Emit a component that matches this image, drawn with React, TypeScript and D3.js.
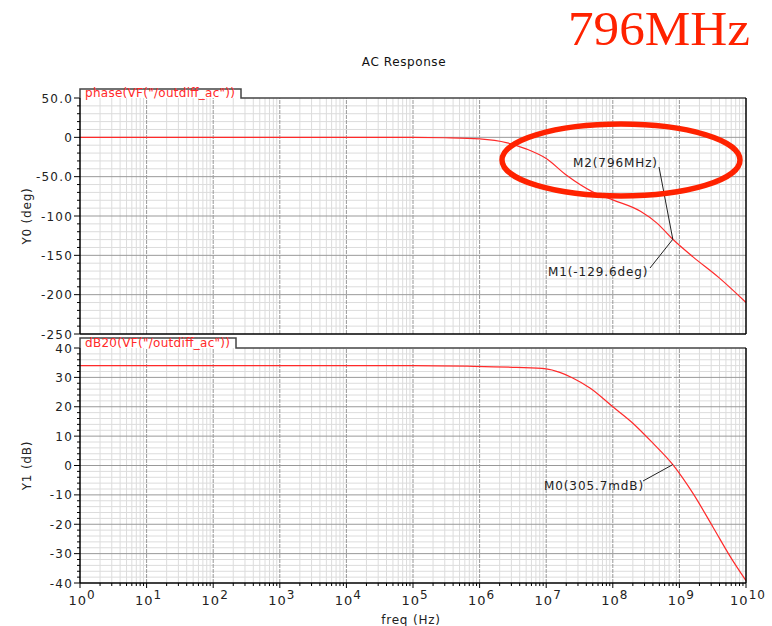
import React from "react";
import * as d3 from "d3";

// phase(VF("/outdiff_ac"))
const phaseFreq = [1, 1e5, 3e5, 1e6, 2.6e6, 5.1e6, 1e7, 2e7, 4.9e7, 1e8, 2.6e8, 4.6e8, 7.96e8, 1.6e9, 4e9, 1e10];
const phaseDeg = [0, 0, -0.5, -2, -7, -15, -27, -48, -69, -79.5, -94, -109, -129.6, -152, -179, -210];

// dB20(VF("/outdiff_ac"))
const gainFreq = [1, 1e5, 6.6e5, 3.6e6, 1e7, 1.6e7, 2.5e7, 4.6e7, 1e8, 2e8, 4e8, 7.96e8, 1.6e9, 3.2e9, 5.8e9, 1e10];
const gainDb = [34, 34, 33.8, 33.4, 32.9, 31.7, 29.8, 26.3, 20, 14.4, 7.6, 0.3, -9.5, -21, -31, -39.2];

const phaseTicks = [50, 0, -50, -100, -150, -200, -250];
const phaseTickLabels = ["50.0", "0", "-50.0", "-100", "-150", "-200", "-250"];
const gainTicks = [40, 30, 20, 10, 0, -10, -20, -30, -40];
const decades = [0, 1, 2, 3, 4, 5, 6, 7, 8, 9, 10];

const markerFreq = 796e6;
const markerPhase = -129.6;
const markerGain = 0.3057;

const width = 772;
const height = 626;
const left = 80;
const right = 746;
const curveRed = "#ff2a2a";
const hotRed = "#ff2200";
const font = "DejaVu Sans, sans-serif";

const App = () => {
  const x = d3.scaleLog().domain([1, 1e10]).range([left, right]);
  const yPhase = d3.scaleLinear().domain([-250, 50]).range([334, 98]);
  const yGain = d3.scaleLinear().domain([-40, 40]).range([583, 348]);

  const minorFreqs: number[] = [];
  for (let n = 0; n < 10; n++) for (let k = 2; k < 10; k++) minorFreqs.push(k * Math.pow(10, n));

  const phaseLine = d3
    .line<number>()
    .x((d) => x(d))
    .y((d, i) => yPhase(phaseDeg[i]))
    .curve(d3.curveMonotoneX);
  const gainLine = d3
    .line<number>()
    .x((d) => x(d))
    .y((d, i) => yGain(gainDb[i]))
    .curve(d3.curveMonotoneX);

  const grid = (y: d3.ScaleLinear<number, number>, step: number, minorStep: number) => {
    const [lo, hi] = y.domain();
    const minor = d3.range(lo, hi + 0.001, minorStep).filter((v) => Math.abs(v % step) > 0.001);
    const major = d3.range(lo + step, hi, step);
    const [y0, y1] = y.range();
    return (
      <g>
        {minorFreqs.map((f, i) => (
          <line key={"vm" + i} x1={x(f)} x2={x(f)} y1={y0} y2={y1} stroke="#dcdcdc" />
        ))}
        {minor.map((v, i) => (
          <line key={"hm" + i} x1={left} x2={right} y1={y(v)} y2={y(v)} stroke="#dcdcdc" />
        ))}
        {decades.slice(1, -1).map((d) => (
          <line key={"vM" + d} x1={x(Math.pow(10, d))} x2={x(Math.pow(10, d))} y1={y0} y2={y1} stroke="#999" strokeDasharray="4,1" />
        ))}
        {major.map((v, i) => (
          <line key={"hM" + i} x1={left} x2={right} y1={y(v)} y2={y(v)} stroke="#999" />
        ))}
        {d3.range(lo, hi + 0.001, minorStep).map((v, i) => {
          const isMajor = Math.abs(v % step) < 0.001;
          return <line key={"t" + i} x1={left - (isMajor ? 6 : 3)} x2={left} y1={y(v)} y2={y(v)} stroke="#000" />;
        })}
      </g>
    );
  };

  const mx = x(markerFreq);
  const mpY = yPhase(markerPhase);
  const mgY = yGain(markerGain);

  const labelStyle = { fontFamily: font, fontSize: 12, letterSpacing: 1.2, fill: "#222" } as const;

  return (
    <div style={{ position: "fixed", left: 0, top: 0 }}>
      <svg width={width} height={height} style={{ display: "block", background: "#fff" }}>
        <text x={568} y={45} fontFamily="Liberation Serif, serif" fontSize={48} fill={hotRed} textLength={182} lengthAdjust="spacingAndGlyphs">
          796MHz
        </text>
        <text x={404} y={66} textAnchor="middle" fontFamily={font} fontSize={12} letterSpacing={0.6} fill="#111">
          AC Response
        </text>

        {/* phase plot */}
        {grid(yPhase, 50, 10)}
        <line x1={mx} x2={mx} y1={89} y2={583} stroke="#fff" strokeWidth={2} />
        <path d={phaseLine(phaseFreq) || ""} fill="none" stroke={curveRed} strokeWidth={1.2} />
        <path d={`M${left},${yPhase(50)}V89H241V${yPhase(50)}H${right}`} fill="none" stroke="#444" strokeWidth={1.5} />
        <line x1={right} x2={right} y1={98} y2={334} stroke="#000" strokeWidth={1.5} />
        <line x1={left} x2={left} y1={98} y2={334} stroke="#000" strokeWidth={1.5} />
        <line x1={left} x2={right} y1={334} y2={334} stroke="#000" strokeWidth={1.5} />
        <text x={85} y={97} fontFamily={font} fontSize={12} fill={curveRed} textLength={150} lengthAdjust="spacing">
          phase(VF("/outdiff_ac"))
        </text>
        {phaseTicks.map((v, i) => (
          <text key={v} x={73} y={yPhase(v) + 4.5} textAnchor="end" {...labelStyle}>
            {phaseTickLabels[i]}
          </text>
        ))}
        <text transform={`translate(31,${(98 + 334) / 2}) rotate(-90)`} textAnchor="middle" {...labelStyle} letterSpacing={0.8}>
          Y0 (deg)
        </text>

        {/* gain plot */}
        {grid(yGain, 10, 2)}
        <line x1={mx} x2={mx} y1={348} y2={583} stroke="#fff" strokeWidth={2} />
        <path d={gainLine(gainFreq) || ""} fill="none" stroke={curveRed} strokeWidth={1.2} />
        <path d={`M${left},${yGain(40)}V338H236V${yGain(40)}H${right}`} fill="none" stroke="#444" strokeWidth={1.5} />
        <line x1={right} x2={right} y1={348} y2={583} stroke="#000" strokeWidth={1.5} />
        <line x1={left} x2={left} y1={348} y2={583} stroke="#000" strokeWidth={1.5} />
        <line x1={left} x2={right} y1={583} y2={583} stroke="#000" strokeWidth={1.5} />
        <text x={85} y={347} fontFamily={font} fontSize={12} fill={curveRed} textLength={145} lengthAdjust="spacing">
          dB20(VF("/outdiff_ac"))
        </text>
        {gainTicks.map((v) => (
          <text key={v} x={73} y={yGain(v) + 4.5} textAnchor="end" {...labelStyle}>
            {v}
          </text>
        ))}
        <text transform={`translate(31,${(348 + 583) / 2}) rotate(-90)`} textAnchor="middle" {...labelStyle} letterSpacing={0.8}>
          Y1 (dB)
        </text>

        {/* x axis */}
        {minorFreqs.map((f, i) => (
          <line key={"xt" + i} x1={x(f)} x2={x(f)} y1={583} y2={586} stroke="#000" />
        ))}
        {decades.map((d) => (
          <line key={"xT" + d} x1={x(Math.pow(10, d))} x2={x(Math.pow(10, d))} y1={583} y2={588} stroke="#000" />
        ))}
        {decades.map((d) => (
          <text key={"xl" + d} x={x(Math.pow(10, d)) + 2} y={605} textAnchor="middle" fontFamily={font} fontSize={13} letterSpacing={1} fill="#222">
            10
            <tspan dy={-6} fontSize={12}>{d}</tspan>
          </text>
        ))}
        <text x={411} y={624} textAnchor="middle" {...labelStyle} letterSpacing={0.8}>
          freq (Hz)
        </text>

        {/* markers */}
        <line x1={659} y1={167} x2={mx} y2={mpY} stroke="#222" />
        <text x={573} y={167} {...labelStyle} letterSpacing={0.9}>M2(796MHz)</text>
        <line x1={650} y1={268} x2={mx} y2={mpY} stroke="#222" />
        <text x={548} y={276} {...labelStyle} letterSpacing={0.9}>M1(-129.6deg)</text>
        <line x1={643} y1={481} x2={mx} y2={mgY} stroke="#222" />
        <text x={544} y={490} {...labelStyle} letterSpacing={0.9}>M0(305.7mdB)</text>

        <ellipse cx={621} cy={160} rx={119} ry={36} fill="none" stroke={hotRed} strokeWidth={5.5} />
      </svg>
    </div>
  );
};

export default App;
